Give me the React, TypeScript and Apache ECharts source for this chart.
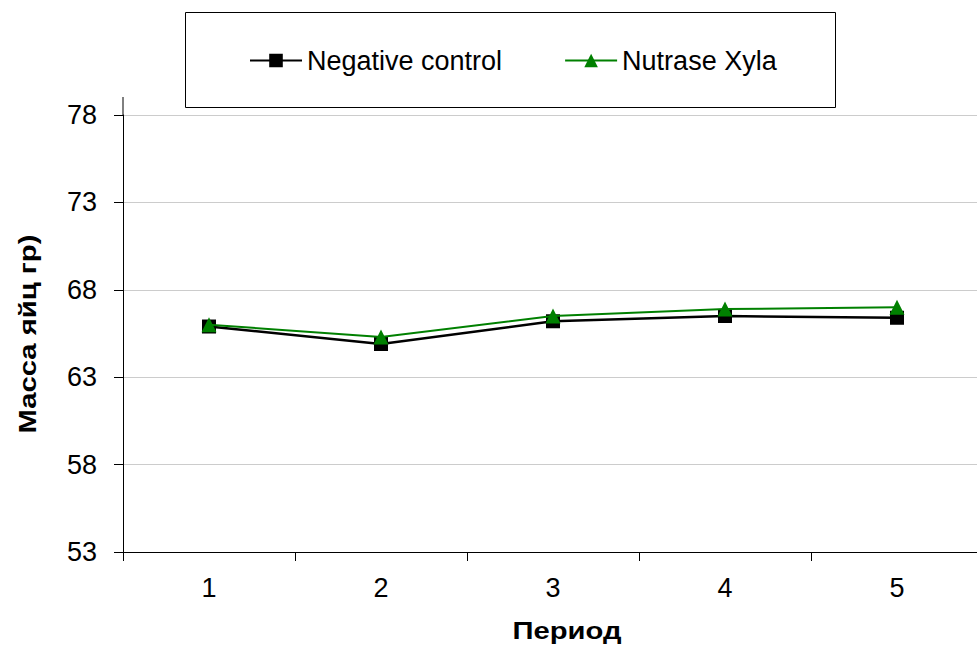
import React, { useEffect, useRef } from "react";
import * as echarts from "echarts";

const periods = ["1", "2", "3", "4", "5"];
const negativeControl = [65.9, 64.9, 66.2, 66.5, 66.4];
const nutraseXyla = [66.0, 65.3, 66.5, 66.9, 67.0];
const yMin = 53;
const yMax = 78;
const yStep = 5;
const xTitle = "Период";
const yTitle = "Масса яйц гр)";

const FONT = "'Liberation Sans', Arial, sans-serif";

export default function App() {
  const ref = useRef<HTMLDivElement>(null);
  useEffect(() => {
    if (!ref.current) return;
    const chart = echarts.init(ref.current, null, { renderer: "svg" });
    chart.setOption({
      animation: false,
      backgroundColor: "#ffffff",
      textStyle: { fontFamily: FONT, color: "#000" },
      grid: { left: 123, top: 115, width: 860, bottom: 97, containLabel: false },
      graphic: [
        {
          type: "rect",
          shape: { x: 185.5, y: 12.5, width: 650, height: 95 },
          style: { fill: "none", stroke: "#000", lineWidth: 1 },
          z: 0,
        },
        {
          type: "line",
          shape: { x1: 123, y1: 97, x2: 123, y2: 115 },
          style: { stroke: "#000", lineWidth: 1 },
        },
        {
          type: "text",
          x: 567,
          y: 631,
          scaleX: 1.27,
          style: {
            text: xTitle,
            font: "bold 23px " + FONT,
            fill: "#000",
            align: "center",
            verticalAlign: "middle",
          },
        },
        {
          type: "text",
          x: 28,
          y: 334,
          rotation: Math.PI / 2,
          scaleX: 1.27,
          style: {
            text: yTitle,
            font: "bold 23px " + FONT,
            fill: "#000",
            align: "center",
            verticalAlign: "middle",
          },
        },
      ],
      legend: {
        left: 244,
        top: 42,
        itemWidth: 52,
        itemHeight: 17,
        itemGap: 62,
        textStyle: { fontFamily: FONT, fontSize: 27, color: "#000", padding: [0, 0, 0, 0] },
        data: ["Negative control", "Nutrase Xyla"],
      },
      xAxis: {
        type: "category",
        data: periods,
        boundaryGap: true,
        axisLine: { lineStyle: { color: "#000", width: 1 } },
        axisTick: { show: true, length: 9, alignWithLabel: false, lineStyle: { color: "#000" } },
        axisLabel: { fontFamily: FONT, fontSize: 27, color: "#000", margin: 22 },
        splitLine: { show: false },
      },
      yAxis: {
        type: "value",
        min: yMin,
        max: yMax,
        interval: yStep,
        axisLine: { show: true, lineStyle: { color: "#000", width: 1 } },
        axisTick: { show: true, length: 9, lineStyle: { color: "#000" } },
        axisLabel: { fontFamily: FONT, fontSize: 27, color: "#000", margin: 26 },
        splitLine: { show: true, lineStyle: { color: "#cccccc", width: 1 } },
      },
      series: [
        {
          name: "Negative control",
          type: "line",
          data: negativeControl,
          symbol: "rect",
          symbolSize: 14,
          lineStyle: { color: "#000", width: 2.5 },
          itemStyle: { color: "#000" },
          z: 2,
        },
        {
          name: "Nutrase Xyla",
          type: "line",
          data: nutraseXyla,
          symbol: "triangle",
          symbolSize: 15,
          lineStyle: { color: "#008000", width: 2 },
          itemStyle: { color: "#008000" },
          z: 3,
        },
      ],
    });
    return () => chart.dispose();
  }, []);
  return (
    <div
      ref={ref}
      style={{ position: "fixed", left: 0, top: 0, width: 985, height: 649, background: "#fff" }}
    />
  );
}
